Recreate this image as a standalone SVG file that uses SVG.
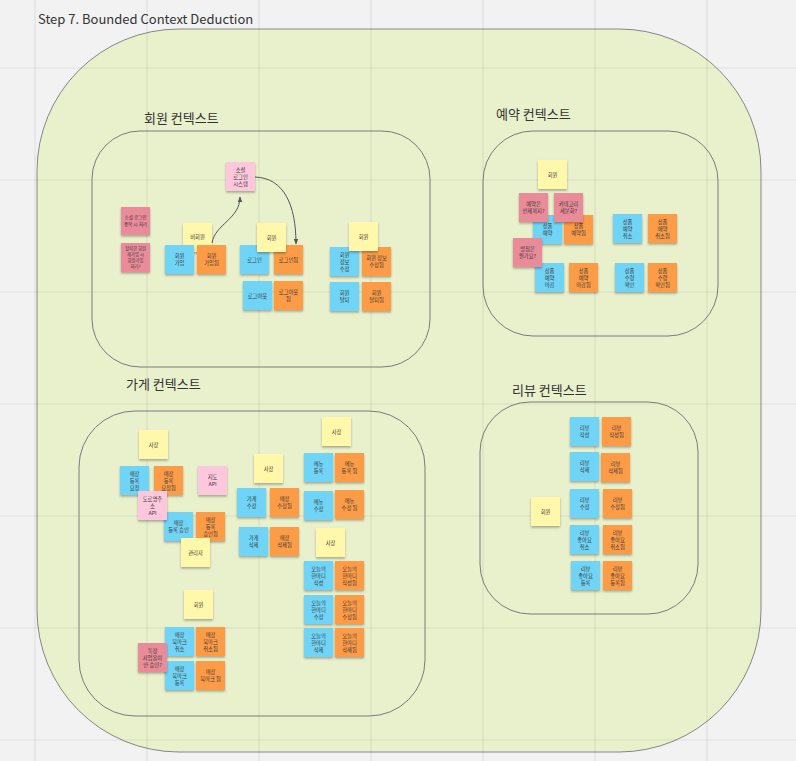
<svg xmlns="http://www.w3.org/2000/svg" width="796" height="761" viewBox="0 0 796 761">
<defs>
<filter id="sh" x="-20%" y="-20%" width="140%" height="150%"><feDropShadow dx="0" dy="1.6" stdDeviation="1.2" flood-color="#000" flood-opacity="0.3"/></filter>
<marker id="ah" viewBox="0 0 10 10" refX="9" refY="5" markerWidth="6" markerHeight="6" orient="auto-start-reverse"><path d="M0,1 L10,5 L0,9 z" fill="#555"/></marker>
<style>
.b{fill:#70d4f6}.o{fill:#fd9c46}.y{fill:#fff7a9}.p{fill:#fec7dc}.r{fill:#ea8b99}
.n rect{filter:url(#sh)}
.n text{font-family:"Noto Sans CJK KR","Noto Sans",sans-serif;font-size:5.3px;fill:#3a3a3a;text-anchor:middle}
.ttl{font-family:"Noto Sans CJK KR","Noto Sans",sans-serif;font-size:13px;fill:#333}
.ctx{fill:none;stroke:#6e6e6e;stroke-width:0.9}
.grid line{stroke:#000;stroke-opacity:0.07;stroke-width:1.2}
.cn{fill:none;stroke:#555;stroke-width:1}
</style>
</defs>
<rect width="796" height="761" fill="#f2f2f2"/>
<rect x="37" y="29" width="724" height="723" rx="142" fill="#e9f0cc" stroke="#7a7a7a" stroke-width="0.9"/>
<g class="grid">
<line x1="35" y1="0" x2="35" y2="761"/><line x1="147" y1="0" x2="147" y2="761"/><line x1="259" y1="0" x2="259" y2="761"/><line x1="371" y1="0" x2="371" y2="761"/><line x1="483" y1="0" x2="483" y2="761"/><line x1="595" y1="0" x2="595" y2="761"/><line x1="707" y1="0" x2="707" y2="761"/>
<line x1="0" y1="68" x2="796" y2="68"/><line x1="0" y1="180" x2="796" y2="180"/><line x1="0" y1="292" x2="796" y2="292"/><line x1="0" y1="404" x2="796" y2="404"/><line x1="0" y1="516" x2="796" y2="516"/><line x1="0" y1="628" x2="796" y2="628"/><line x1="0" y1="740" x2="796" y2="740"/>
</g>
<text class="ttl" x="38" y="24" font-family="Noto Sans, sans-serif">Step 7. Bounded Context Deduction</text>

<g id="ctx-member">
<rect class="ctx" x="92" y="131" width="338" height="236" rx="48"/>
<text class="ttl" x="144" y="123">회원 컨텍스트</text>
</g>
<g id="ctx-reservation">
<rect class="ctx" x="483" y="131" width="235" height="205" rx="50"/>
<text class="ttl" x="496" y="119">예약 컨텍스트</text>
</g>
<g id="ctx-store">
<rect class="ctx" x="79" y="411" width="346" height="305" rx="56"/>
<text class="ttl" x="126" y="389">가게 컨텍스트</text>
</g>
<g id="ctx-review">
<rect class="ctx" x="480" y="402" width="218" height="212" rx="50"/>
<text class="ttl" x="512" y="395">리뷰 컨텍스트</text>
</g>

<!-- 회원 -->
<g id="m-social" class="n"><rect class="p" x="226" y="162" width="29" height="29"/><text x="240.5" y="171.5"><tspan x="240.5">소셜</tspan><tspan x="240.5" dy="7">로그인</tspan><tspan x="240.5" dy="7">시스템</tspan></text></g>
<g id="m-q1" class="n"><rect class="r" x="121" y="207" width="29" height="28"/><text x="135.5" y="219" style="font-size:4.6px"><tspan x="135.5">소셜 로그인</tspan><tspan x="135.5" dy="7">중복 시 처리</tspan></text></g>
<g id="m-q2" class="n"><rect class="r" x="121" y="243" width="29" height="29"/><text x="135.5" y="249.5" style="font-size:4.3px"><tspan x="135.5">탈퇴한 회원</tspan><tspan x="135.5" dy="6">재가입 시</tspan><tspan x="135.5" dy="6">회원가입</tspan><tspan x="135.5" dy="6">처리?</tspan></text></g>
<g id="m-guest" class="n"><rect class="y" x="183" y="223" width="29" height="29"/><text x="197.5" y="238.5">비회원</text></g>
<g id="m-join" class="n"><rect class="b" x="165" y="245" width="29" height="29"/><text x="179.5" y="258"><tspan x="179.5">회원</tspan><tspan x="179.5" dy="7">가입</tspan></text></g>
<g id="m-joined" class="n"><rect class="o" x="197" y="245" width="29" height="29"/><text x="211.5" y="258"><tspan x="211.5">회원</tspan><tspan x="211.5" dy="7">가입됨</tspan></text></g>
<g id="m-login" class="n"><rect class="b" x="240" y="245" width="29" height="29"/><text x="254.5" y="261.5">로그인</text></g>
<g id="m-loggedin" class="n"><rect class="o" x="274" y="245" width="29" height="29"/><text x="288.5" y="261.5">로그인됨</text></g>
<g id="m-member1" class="n"><rect class="y" x="257" y="223" width="29" height="29"/><text x="271.5" y="239.5">회원</text></g>
<g id="m-logout" class="n"><rect class="b" x="243" y="281" width="29" height="29"/><text x="257.5" y="297.5">로그아웃</text></g>
<g id="m-loggedout" class="n"><rect class="o" x="274" y="281" width="29" height="29"/><text x="288.5" y="294"><tspan x="288.5">로그아웃</tspan><tspan x="288.5" dy="7">됨</tspan></text></g>
<g id="m-edit" class="n"><rect class="b" x="330" y="247" width="29" height="29"/><text x="344.5" y="256.5"><tspan x="344.5">회원</tspan><tspan x="344.5" dy="7">정보</tspan><tspan x="344.5" dy="7">수정</tspan></text></g>
<g id="m-edited" class="n"><rect class="o" x="362" y="247" width="29" height="29"/><text x="376.5" y="260"><tspan x="376.5">회원 정보</tspan><tspan x="376.5" dy="7">수정됨</tspan></text></g>
<g id="m-member2" class="n"><rect class="y" x="349" y="222" width="29" height="29"/><text x="363.5" y="238.5">회원</text></g>
<g id="m-leave" class="n"><rect class="b" x="330" y="282" width="29" height="29"/><text x="344.5" y="295"><tspan x="344.5">회원</tspan><tspan x="344.5" dy="7">탈퇴</tspan></text></g>
<g id="m-left" class="n"><rect class="o" x="362" y="282" width="29" height="29"/><text x="376.5" y="295"><tspan x="376.5">회원</tspan><tspan x="376.5" dy="7">탈퇴됨</tspan></text></g>

<!-- 예약 -->
<g id="r-member" class="n"><rect class="y" x="538" y="160" width="29" height="29"/><text x="552.5" y="176.5">회원</text></g>
<g id="r-reserve" class="n"><rect class="b" x="533" y="215" width="29" height="29"/><text x="547.5" y="228"><tspan x="547.5">상품</tspan><tspan x="547.5" dy="7">예약</tspan></text></g>
<g id="r-reserved" class="n"><rect class="o" x="564" y="215" width="29" height="29"/><text x="578.5" y="228"><tspan x="578.5">상품</tspan><tspan x="578.5" dy="7">예약됨</tspan></text></g>
<g id="r-q1" class="n"><rect class="r" x="519" y="193" width="29" height="29"/><text x="533.5" y="206"><tspan x="533.5">예약은</tspan><tspan x="533.5" dy="7">언제까지?</tspan></text></g>
<g id="r-q2" class="n"><rect class="r" x="554" y="193" width="29" height="29"/><text x="568.5" y="206"><tspan x="568.5">카테고리</tspan><tspan x="568.5" dy="7">세분화?</tspan></text></g>
<g id="r-cancel" class="n"><rect class="b" x="613" y="214" width="29" height="29"/><text x="627.5" y="223.5"><tspan x="627.5">상품</tspan><tspan x="627.5" dy="7">예약</tspan><tspan x="627.5" dy="7">취소</tspan></text></g>
<g id="r-cancelled" class="n"><rect class="o" x="648" y="214" width="29" height="29"/><text x="662.5" y="223.5"><tspan x="662.5">상품</tspan><tspan x="662.5" dy="7">예약</tspan><tspan x="662.5" dy="7">취소됨</tspan></text></g>
<g id="r-close" class="n"><rect class="b" x="535" y="263" width="29" height="29"/><text x="549.5" y="272.5"><tspan x="549.5">상품</tspan><tspan x="549.5" dy="7">예약</tspan><tspan x="549.5" dy="7">마감</tspan></text></g>
<g id="r-closed" class="n"><rect class="o" x="569" y="263" width="29" height="29"/><text x="583.5" y="272.5"><tspan x="583.5">상품</tspan><tspan x="583.5" dy="7">예약</tspan><tspan x="583.5" dy="7">마감됨</tspan></text></g>
<g id="r-q3" class="n"><rect class="r" x="513" y="238" width="29" height="29"/><text x="527.5" y="251"><tspan x="527.5">방침은</tspan><tspan x="527.5" dy="7">뭔가요?</tspan></text></g>
<g id="r-receive" class="n"><rect class="b" x="615" y="263" width="29" height="29"/><text x="629.5" y="272.5"><tspan x="629.5">상품</tspan><tspan x="629.5" dy="7">수령</tspan><tspan x="629.5" dy="7">확인</tspan></text></g>
<g id="r-received" class="n"><rect class="o" x="648" y="263" width="29" height="29"/><text x="662.5" y="272.5"><tspan x="662.5">상품</tspan><tspan x="662.5" dy="7">수령</tspan><tspan x="662.5" dy="7">확인됨</tspan></text></g>

<!-- 가게 -->
<g id="s-owner1" class="n"><rect class="y" x="139" y="430" width="29" height="29"/><text x="153.5" y="446.5">사장</text></g>
<g id="s-req" class="n"><rect class="b" x="120" y="466" width="29" height="29"/><text x="134.5" y="475.5"><tspan x="134.5">매장</tspan><tspan x="134.5" dy="7">등록</tspan><tspan x="134.5" dy="7">요청</tspan></text></g>
<g id="s-reqd" class="n"><rect class="o" x="154" y="466" width="29" height="29"/><text x="168.5" y="475.5"><tspan x="168.5">매장</tspan><tspan x="168.5" dy="7">등록</tspan><tspan x="168.5" dy="7">요청됨</tspan></text></g>
<g id="s-map" class="n"><rect class="p" x="198" y="466" width="29" height="29"/><text x="212.5" y="479"><tspan x="212.5">지도</tspan><tspan x="212.5" dy="7">API</tspan></text></g>
<g id="s-approve" class="n"><rect class="b" x="164" y="512" width="29" height="29"/><text x="178.5" y="525"><tspan x="178.5">매장</tspan><tspan x="178.5" dy="7">등록 승인</tspan></text></g>
<g id="s-approved" class="n"><rect class="o" x="196" y="512" width="29" height="29"/><text x="210.5" y="521.5"><tspan x="210.5">매장</tspan><tspan x="210.5" dy="7">등록</tspan><tspan x="210.5" dy="7">승인됨</tspan></text></g>
<g id="s-addr" class="n"><rect class="p" x="138" y="491" width="29" height="29"/><text x="152.5" y="500.5"><tspan x="152.5">도로명주</tspan><tspan x="152.5" dy="7">소</tspan><tspan x="152.5" dy="7">API</tspan></text></g>
<g id="s-admin" class="n"><rect class="y" x="181" y="538" width="29" height="29"/><text x="195.5" y="554.5">관리자</text></g>
<g id="s-owner2" class="n"><rect class="y" x="254" y="454" width="29" height="29"/><text x="268.5" y="470.5">사장</text></g>
<g id="s-edit" class="n"><rect class="b" x="237" y="488" width="29" height="29"/><text x="251.5" y="501"><tspan x="251.5">가게</tspan><tspan x="251.5" dy="7">수정</tspan></text></g>
<g id="s-edited" class="n"><rect class="o" x="270" y="488" width="29" height="29"/><text x="284.5" y="501"><tspan x="284.5">매장</tspan><tspan x="284.5" dy="7">수정됨</tspan></text></g>
<g id="s-del" class="n"><rect class="b" x="239" y="527" width="29" height="29"/><text x="253.5" y="540"><tspan x="253.5">가게</tspan><tspan x="253.5" dy="7">삭제</tspan></text></g>
<g id="s-deleted" class="n"><rect class="o" x="270" y="527" width="29" height="29"/><text x="284.5" y="540"><tspan x="284.5">매장</tspan><tspan x="284.5" dy="7">삭제됨</tspan></text></g>
<g id="s-owner3" class="n"><rect class="y" x="322" y="417" width="29" height="29"/><text x="336.5" y="433.5">사장</text></g>
<g id="s-menu" class="n"><rect class="b" x="304" y="453" width="29" height="29"/><text x="318.5" y="466"><tspan x="318.5">메뉴</tspan><tspan x="318.5" dy="7">등록</tspan></text></g>
<g id="s-menud" class="n"><rect class="o" x="335" y="453" width="29" height="29"/><text x="349.5" y="466"><tspan x="349.5">메뉴</tspan><tspan x="349.5" dy="7">등록 됨</tspan></text></g>
<g id="s-menuedit" class="n"><rect class="b" x="304" y="491" width="29" height="29"/><text x="318.5" y="504"><tspan x="318.5">메뉴</tspan><tspan x="318.5" dy="7">수정</tspan></text></g>
<g id="s-menuedited" class="n"><rect class="o" x="335" y="490" width="29" height="29"/><text x="349.5" y="503"><tspan x="349.5">메뉴</tspan><tspan x="349.5" dy="7">수정 됨</tspan></text></g>
<g id="s-owner4" class="n"><rect class="y" x="316" y="528" width="29" height="29"/><text x="330.5" y="544.5">사장</text></g>
<g id="s-say" class="n"><rect class="b" x="304" y="561" width="29" height="29"/><text x="318.5" y="570.5"><tspan x="318.5">오늘의</tspan><tspan x="318.5" dy="7">한마디</tspan><tspan x="318.5" dy="7">작성</tspan></text></g>
<g id="s-said" class="n"><rect class="o" x="335" y="561" width="29" height="29"/><text x="349.5" y="570.5"><tspan x="349.5">오늘의</tspan><tspan x="349.5" dy="7">한마디</tspan><tspan x="349.5" dy="7">작성됨</tspan></text></g>
<g id="s-sayedit" class="n"><rect class="b" x="304" y="595" width="29" height="29"/><text x="318.5" y="604.5"><tspan x="318.5">오늘의</tspan><tspan x="318.5" dy="7">한마디</tspan><tspan x="318.5" dy="7">수정</tspan></text></g>
<g id="s-sayedited" class="n"><rect class="o" x="335" y="595" width="29" height="29"/><text x="349.5" y="604.5"><tspan x="349.5">오늘의</tspan><tspan x="349.5" dy="7">한마디</tspan><tspan x="349.5" dy="7">수정됨</tspan></text></g>
<g id="s-saydel" class="n"><rect class="b" x="304" y="628" width="29" height="29"/><text x="318.5" y="637.5"><tspan x="318.5">오늘의</tspan><tspan x="318.5" dy="7">한마디</tspan><tspan x="318.5" dy="7">삭제</tspan></text></g>
<g id="s-saydeleted" class="n"><rect class="o" x="335" y="628" width="29" height="29"/><text x="349.5" y="637.5"><tspan x="349.5">오늘의</tspan><tspan x="349.5" dy="7">한마디</tspan><tspan x="349.5" dy="7">삭제됨</tspan></text></g>
<g id="s-member" class="n"><rect class="y" x="184" y="590" width="29" height="29"/><text x="198.5" y="606.5">회원</text></g>
<g id="s-bmcancel" class="n"><rect class="b" x="165" y="627" width="29" height="29"/><text x="179.5" y="636.5"><tspan x="179.5">매장</tspan><tspan x="179.5" dy="7">북마크</tspan><tspan x="179.5" dy="7">취소</tspan></text></g>
<g id="s-bmcancelled" class="n"><rect class="o" x="196" y="627" width="29" height="29"/><text x="210.5" y="636.5"><tspan x="210.5">매장</tspan><tspan x="210.5" dy="7">북마크</tspan><tspan x="210.5" dy="7">취소됨</tspan></text></g>
<g id="s-bm" class="n"><rect class="b" x="165" y="661" width="29" height="29"/><text x="179.5" y="670.5"><tspan x="179.5">매장</tspan><tspan x="179.5" dy="7">북마크</tspan><tspan x="179.5" dy="7">등록</tspan></text></g>
<g id="s-bmd" class="n"><rect class="o" x="196" y="661" width="29" height="29"/><text x="210.5" y="674"><tspan x="210.5">매장</tspan><tspan x="210.5" dy="7">북마크 됨</tspan></text></g>
<g id="s-q" class="n"><rect class="r" x="138" y="643" width="29" height="29"/><text x="152.5" y="652.5"><tspan x="152.5">특정</tspan><tspan x="152.5" dy="7">사업용이</tspan><tspan x="152.5" dy="7">안 승인?</tspan></text></g>

<!-- 리뷰 -->
<g id="v-member" class="n"><rect class="y" x="531" y="497" width="29" height="29"/><text x="545.5" y="513.5">회원</text></g>
<g id="v-write" class="n"><rect class="b" x="570" y="417" width="29" height="29"/><text x="584.5" y="430"><tspan x="584.5">리뷰</tspan><tspan x="584.5" dy="7">작성</tspan></text></g>
<g id="v-written" class="n"><rect class="o" x="602" y="417" width="29" height="29"/><text x="616.5" y="430"><tspan x="616.5">리뷰</tspan><tspan x="616.5" dy="7">작성됨</tspan></text></g>
<g id="v-del" class="n"><rect class="b" x="570" y="452" width="29" height="29"/><text x="584.5" y="465"><tspan x="584.5">리뷰</tspan><tspan x="584.5" dy="7">삭제</tspan></text></g>
<g id="v-deleted" class="n"><rect class="o" x="601" y="453" width="29" height="29"/><text x="615.5" y="466"><tspan x="615.5">리뷰</tspan><tspan x="615.5" dy="7">삭제됨</tspan></text></g>
<g id="v-edit" class="n"><rect class="b" x="570" y="489" width="29" height="29"/><text x="584.5" y="502"><tspan x="584.5">리뷰</tspan><tspan x="584.5" dy="7">수정</tspan></text></g>
<g id="v-edited" class="n"><rect class="o" x="603" y="489" width="29" height="29"/><text x="617.5" y="502"><tspan x="617.5">리뷰</tspan><tspan x="617.5" dy="7">수정됨</tspan></text></g>
<g id="v-unlike" class="n"><rect class="b" x="570" y="525" width="29" height="29"/><text x="584.5" y="534.5"><tspan x="584.5">리뷰</tspan><tspan x="584.5" dy="7">좋아요</tspan><tspan x="584.5" dy="7">취소</tspan></text></g>
<g id="v-unliked" class="n"><rect class="o" x="603" y="525" width="29" height="29"/><text x="617.5" y="534.5"><tspan x="617.5">리뷰</tspan><tspan x="617.5" dy="7">좋아요</tspan><tspan x="617.5" dy="7">취소됨</tspan></text></g>
<g id="v-like" class="n"><rect class="b" x="571" y="561" width="29" height="29"/><text x="585.5" y="570.5"><tspan x="585.5">리뷰</tspan><tspan x="585.5" dy="7">좋아요</tspan><tspan x="585.5" dy="7">등록</tspan></text></g>
<g id="v-liked" class="n"><rect class="o" x="603" y="561" width="29" height="29"/><text x="617.5" y="570.5"><tspan x="617.5">리뷰</tspan><tspan x="617.5" dy="7">좋아요</tspan><tspan x="617.5" dy="7">등록됨</tspan></text></g>

<g id="connectors">
<path class="cn" d="M212,243 C215,224 240,219 240,197" marker-end="url(#ah)"/>
<path class="cn" d="M255,177 C284,178 296,205 296,244" marker-end="url(#ah)"/>
</g>
</svg>
